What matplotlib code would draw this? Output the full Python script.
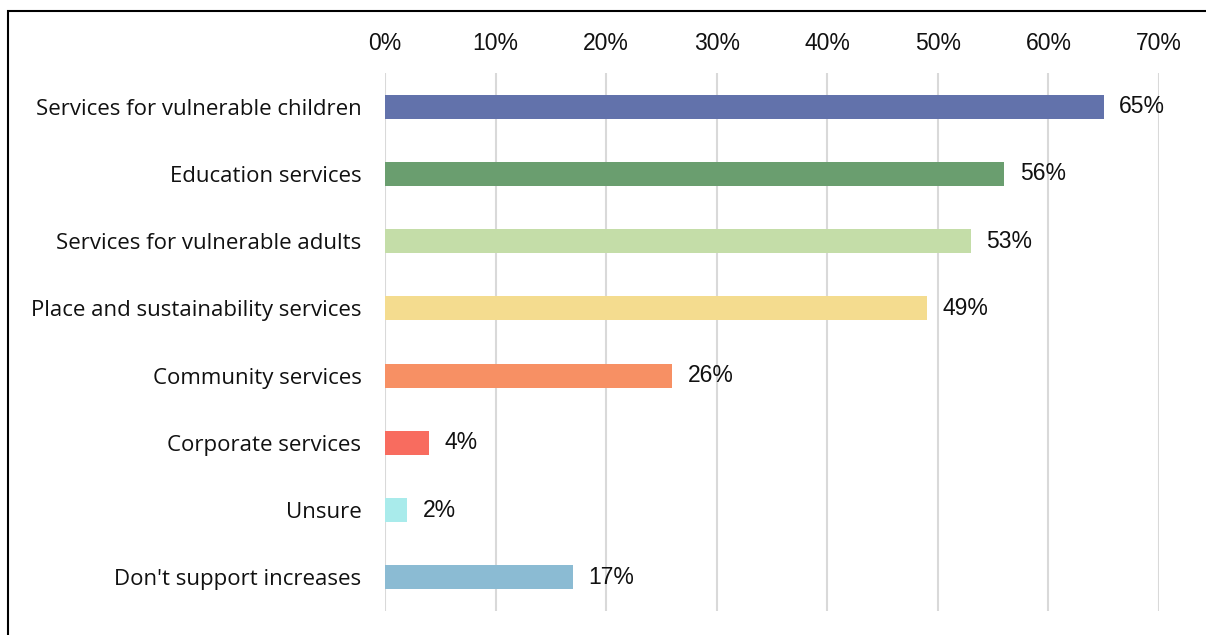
import matplotlib.pyplot as plt
from matplotlib.patches import Rectangle
from matplotlib.ticker import PercentFormatter

# Réponses : services à financer en priorité
categories = [
    "Services for vulnerable children",
    "Education services",
    "Services for vulnerable adults",
    "Place and sustainability services",
    "Community services",
    "Corporate services",
    "Unsure",
    "Don't support increases",
]
values = [65, 56, 53, 49, 26, 4, 2, 17]
bar_colors = ["#6272AB", "#6A9E6F", "#C4DDA8", "#F4DC8F",
              "#F79064", "#F86C5F", "#A9EBEB", "#8BBBD3"]
ticks = [0, 10, 20, 30, 40, 50, 60, 70]

plt.rcParams['font.family'] = ['Liberation Sans', 'DejaVu Sans']

fig = plt.figure(figsize=(12.06, 6.35), dpi=100)
ax = fig.add_axes([385 / 1206, 1 - 611 / 635, (1159 - 385) / 1206, (611 - 73) / 635])

y = range(len(categories))
ax.barh(y, values, height=0.36, color=bar_colors, zorder=3)

for i, v in enumerate(values):
    ax.text(v + 1.4, i, f"{v}%", va='center', ha='left', fontsize=16.5, color='#111111')

ax.set_xlim(0, 70)
ax.set_ylim(len(categories) - 0.5, -0.5)
ax.set_xticks(ticks)
ax.xaxis.set_major_formatter(PercentFormatter(decimals=0))
ax.xaxis.tick_top()
ax.tick_params(axis='x', length=0, pad=13, labelsize=16.5, labelcolor='#111111')
ax.set_yticks(list(y))
ax.set_yticklabels(categories, fontsize=16, color='#111111', family=['Open Sans', 'DejaVu Sans'])
ax.tick_params(axis='y', length=0, pad=17)
ax.grid(axis='x', color='#D9D9D9', linewidth=1.5, zorder=0)
for s in ax.spines.values():
    s.set_visible(False)

# cadre noir autour du graphique
fig.patches.append(Rectangle((8 / 1206, -0.1), 1.2, 1 - 11 / 635 + 0.1,
                             transform=fig.transFigure, fill=False,
                             edgecolor='black', linewidth=1.5))

fig.savefig("out.png", dpi=100)
